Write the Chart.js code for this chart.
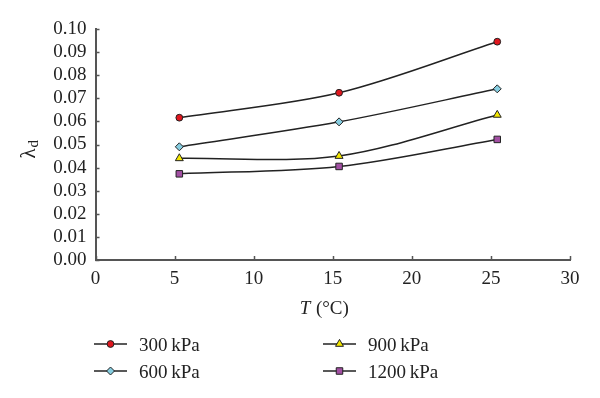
<!DOCTYPE html>
<html><head><meta charset="utf-8">
<script src="https://cdn.jsdelivr.net/npm/chart.js@4"></script>
<style>html,body{margin:0;padding:0;background:#fff}</style></head>
<body>
<canvas id="c" width="600" height="398" style="display:block;width:600px;height:398px"></canvas>
<script>
const temperatures = [5.3, 15.4, 25.4];
const seriesLabels = ['300\u2009kPa', '600\u2009kPa', '900\u2009kPa', '1200\u2009kPa'];
const lambda300 = [0.0616, 0.0724, 0.0945];
const lambda600 = [0.0490, 0.0598, 0.0741];
const lambda900 = [0.0440, 0.0450, 0.0628];
const lambda1200 = [0.0373, 0.0405, 0.0522];
const xTickValues = [0, 5, 10, 15, 20, 25, 30];
const yTickValues = [0, 0.01, 0.02, 0.03, 0.04, 0.05, 0.06, 0.07, 0.08, 0.09, 0.10];
const xTitleItalic = 'T';
const xTitleRest = ' (\u00B0C)';
const yTitleMain = '\u03BB';
const yTitleSub = 'd';

const SERIF = '"Liberation Serif", "DejaVu Serif", serif';
const AXIS = '#555555';
const TEXT = '#222222';

const seriesValues = [lambda300, lambda600, lambda900, lambda1200];
const seriesColors = ['#e0161e', '#86cde0', '#f3e600', '#a24fa3'];
const seriesStyles = ['circle', 'rectRot', 'triangle', 'rect'];
const seriesRadius = [3.4, 4, 4.6, 4.6];

const datasets = seriesValues.map((vals, i) => ({
  label: seriesLabels[i],
  data: vals.map((v, j) => ({x: temperatures[j], y: v})),
  borderColor: '#222222',
  borderWidth: 1.5,
  tension: 0.32,
  pointStyle: seriesStyles[i],
  pointRadius: seriesRadius[i],
  pointBackgroundColor: seriesColors[i],
  pointBorderColor: '#222222',
  pointBorderWidth: 1,
  fill: false
}));

const extras = {
  id: 'extras',
  afterDraw(chart) {
    const ctx = chart.ctx;
    const xs = chart.scales.x, ys = chart.scales.y;
    const ca = chart.chartArea;
    ctx.save();
    // inward tick marks
    ctx.strokeStyle = AXIS;
    ctx.lineWidth = 1.5;
    ctx.beginPath();
    xTickValues.forEach(v => {
      const px = Math.round(xs.getPixelForValue(v)) + 0.5;
      ctx.moveTo(px, ca.bottom); ctx.lineTo(px, ca.bottom - 4);
    });
    yTickValues.forEach(v => {
      const py = Math.round(ys.getPixelForValue(v)) + 0.5;
      ctx.moveTo(ca.left, py); ctx.lineTo(ca.left + 4, py);
    });
    ctx.stroke();

    // x title
    ctx.fillStyle = TEXT;
    ctx.textBaseline = 'alphabetic';
    const fi = 'italic 19px ' + SERIF, fn = '19px ' + SERIF;
    ctx.font = fi; const w1 = ctx.measureText(xTitleItalic).width;
    ctx.font = fn; const w2 = ctx.measureText(xTitleRest).width;
    const cx = (ca.left + ca.right) / 2 - 9;
    let sx = cx - (w1 + w2) / 2;
    ctx.font = fi; ctx.textAlign = 'left'; ctx.fillText(xTitleItalic, sx, 314);
    ctx.font = fn; ctx.fillText(xTitleRest, sx + w1 + 1, 314);

    // y title (rotated)
    ctx.save();
    ctx.translate(30, (ca.top + ca.bottom) / 2);
    ctx.rotate(-Math.PI / 2);
    ctx.font = '21px ' + SERIF;
    ctx.textAlign = 'left';
    ctx.fillText(yTitleMain, -14, 5);
    ctx.font = '15px ' + SERIF;
    ctx.fillText(yTitleSub, -3, 8);
    ctx.restore();

    // legend (two columns)
    const cols = [94, 323], rows = [344, 371];
    chart.data.datasets.forEach((ds, i) => {
      const x0 = cols[Math.floor(i / 2)], y0 = rows[i % 2];
      ctx.strokeStyle = ds.borderColor; ctx.lineWidth = 1.5;
      ctx.beginPath(); ctx.moveTo(x0, y0); ctx.lineTo(x0 + 33, y0); ctx.stroke();
      ctx.fillStyle = ds.pointBackgroundColor; ctx.strokeStyle = ds.pointBorderColor; ctx.lineWidth = 1;
      Chart.helpers.drawPoint(ctx, {pointStyle: ds.pointStyle, radius: ds.pointRadius, borderWidth: 1, rotation: 0}, x0 + 16.5, y0);
      ctx.fillStyle = TEXT;
      ctx.font = '19px ' + SERIF;
      ctx.textBaseline = 'alphabetic';
      ctx.textAlign = 'left';
      ctx.fillText(ds.label, x0 + 45, y0 + 6.5);
    });
    ctx.restore();
  }
};

new Chart(document.getElementById('c'), {
  type: 'line',
  data: { datasets },
  options: {
    responsive: false,
    animation: false,
    devicePixelRatio: 1,
    layout: { padding: { top: 29, right: 30, left: 0, bottom: 0 } },
    plugins: { legend: { display: false }, tooltip: { enabled: false } },
    scales: {
      x: {
        type: 'linear', min: 0, max: 30,
        afterBuildTicks: s => { s.ticks = xTickValues.map(v => ({value: v})); },
        afterFit: s => { s.height = 138; },
        grid: { display: false, drawTicks: false },
        border: { display: true, color: AXIS, width: 2 },
        ticks: { padding: 8, autoSkip: false, color: TEXT, font: { family: SERIF, size: 19 }, maxRotation: 0 }
      },
      y: {
        min: 0, max: 0.10,
        afterBuildTicks: s => { s.ticks = yTickValues.map(v => ({value: v})); },
        afterFit: s => { s.width = 95.5; },
        grid: { display: false, drawTicks: false },
        border: { display: true, color: AXIS, width: 2 },
        ticks: { padding: 9, autoSkip: false, color: TEXT, font: { family: SERIF, size: 19 },
          callback: v => Number(v).toFixed(2) }
      }
    }
  },
  plugins: [extras]
});
</script>
</body></html>
